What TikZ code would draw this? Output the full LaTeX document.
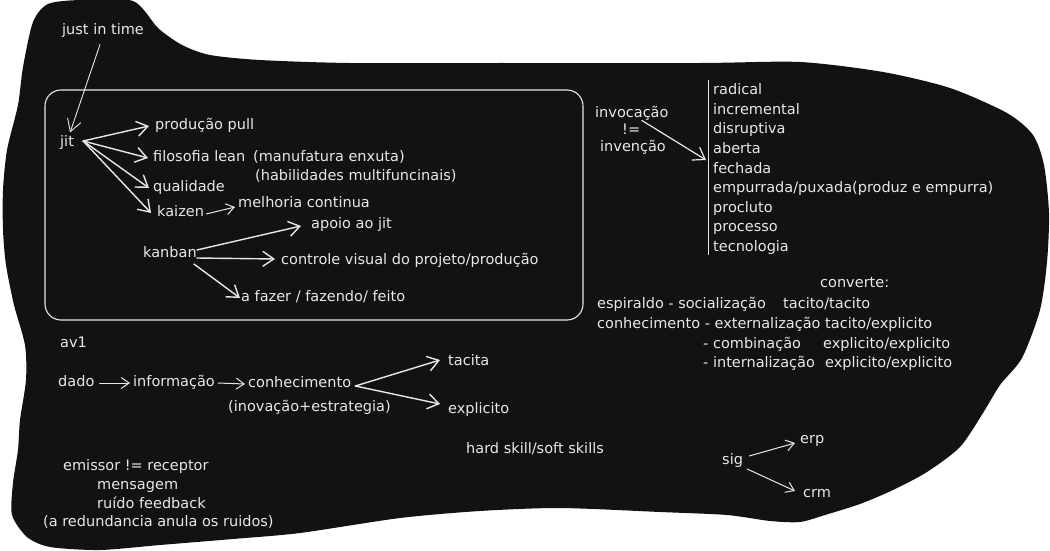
\documentclass[tikz,border=0pt]{standalone}
\usepackage{fontspec}
\setmainfont{DejaVu Sans}
\usetikzlibrary{arrows.meta}
\definecolor{bg}{HTML}{121212}
\definecolor{fg}{HTML}{E8E8E8}
\begin{document}
\begin{tikzpicture}[x=1pt,y=-1pt,
  txt/.style={anchor=west,inner sep=0pt,text=fg,font=\fontsize{14.5}{16}\selectfont,text height=11pt,text depth=3.5pt},
  arr/.style={draw=fg,line width=1.4pt,line cap=round,-{Straight Barb[length=11pt,width=15pt]}},
  sarr/.style={draw=fg,line width=1pt,line cap=round,-{Straight Barb[length=8pt,width=11pt]}},
  tarr/.style={draw=fg,line width=0.9pt,line cap=round,-{Straight Barb[length=12pt,width=14pt]}},
  frame/.style={draw=fg,line width=1.1pt,rounded corners=16pt}]
\useasboundingbox (0,0) rectangle (1050,551);
% blob
\fill[bg] plot[smooth cycle,tension=0.45] coordinates {
 (33,22) (48,4) (80,0) (133,1) (158,28) (182,45) (210,55) (260,60) (350,63) (500,63) (700,63)
 (800,62) (883,72) (950,88) (1007,113) (1033,135) (1044,165) (1049,213) (1047,262)
 (1040,310) (1022,358) (1000,385) (983,413) (960,447) (927,472) (893,490) (860,504)
 (825,515) (800,522) (770,521) (727,515) (660,512) (560,508) (480,511) (400,518)
 (300,533) (233,539) (160,545) (100,550) (50,547) (27,537) (12,515) (13,483) (18,450)
 (20,420) (26,380) (25,345) (14,305) (6,265) (3,230) (3,190) (7,150) (18,105) (23,67)};
% frame
\draw[frame] (45,90) rectangle (583,320);
% upper-left group
\node[txt] (jt) at (62,31) {just in time};
\node[txt] (jit) at (60,143) {jit};
\node[txt] (pp) at (155,126) {produção pull};
\node[txt] (fl) at (153,158) {filosofia lean};
\node[txt] (mf) at (253,158) {(manufatura enxuta)};
\node[txt] (hm) at (255,177) {(habilidades multifuncinais)};
\node[txt] (q) at (153,188) {qualidade};
\node[txt] (kz) at (157,213) {kaizen};
\node[txt] (mc) at (238,204) {melhoria continua};
\node[txt] (ap) at (311,225) {apoio ao jit};
\node[txt] (kb) at (143,254) {kanban};
\node[txt] (cv) at (281,261) {controle visual do projeto/produção};
\node[txt] (af) at (241,298) {a fazer / fazendo/ feito};
\draw[tarr] ([yshift=-6pt,xshift=-3pt]jt.south) -- ([yshift=3pt,xshift=3pt]jit.north);
\draw[arr] ([xshift=9pt,yshift=2pt]jit.east) -- ([xshift=-6pt]pp.west);
\draw[arr] ([xshift=9pt,yshift=2pt]jit.east) -- ([xshift=-5pt]fl.west);
\draw[arr] ([xshift=9pt,yshift=2pt]jit.east) -- ([xshift=-4pt]q.west);
\draw[arr] ([xshift=9pt,yshift=2pt]jit.east) -- ([xshift=-6pt]kz.west);
\draw[sarr] ([xshift=2pt,yshift=-1pt]kz.east) -- ([xshift=-3pt,yshift=-3pt]mc.west);
\draw[arr] ([yshift=4pt]kb.east) -- ([xshift=-10pt,yshift=-1pt]ap.west);
\draw[arr] ([yshift=-4pt]kb.east) -- ([xshift=-6pt,yshift=2pt]cv.west);
\draw[arr] ([xshift=-3pt,yshift=-10pt]kb.east) -- ([xshift=-1pt]af.west);
% innovation list
\node[txt] (inv) at (595,114) {invocação};
\node[txt] (ne) at (622,131) {!=};
\node[txt] (ivn) at (600,148) {invenção};
\draw[fg,line width=1pt] (708,80) coordinate (vt) -- (708,255) coordinate (vb);
\coordinate (vm) at (706,160);
\draw[arr,line width=1.2pt] ([xshift=10pt,yshift=1pt]inv.south) -- (vm);
\foreach \t [count=\i from 0] in {radical,incremental,disruptiva,aberta,fechada,empurrada/puxada(produz e empurra),procluto,processo,tecnologia}
  \node[txt] (li\i) at (713,91+19.6*\i) {\t};
% knowledge conversion
\node[txt] (cvt) at (820,284) {converte:};
\node[txt] (e1) at (597,305) {espiraldo - socialização};
\node[txt] (e1r) at (783,305) {tacito/tacito};
\node[txt] (e2) at (597,325) {conhecimento - externalização};
\node[txt] (e2r) at (825,325) {tacito/explicito};
\node[txt] (e3) at (703,345) {- combinação};
\node[txt] (e3r) at (823,345) {explicito/explicito};
\node[txt] (e4) at (703,364) {- internalização};
\node[txt] (e4r) at (825,364) {explicito/explicito};
% av1 chain
\node[txt] (av) at (60,344) {av1};
\node[txt] (dd) at (58,383) {dado};
\node[txt] (inf) at (133,383) {informação};
\node[txt] (con) at (248,384) {conhecimento};
\node[txt] (inov) at (228,408) {(inovação+estrategia)};
\node[txt] (tac) at (448,362) {tacita};
\node[txt] (exp) at (448,410) {explicito};
\draw[sarr] ([xshift=5pt]dd.east) -- ([xshift=-3pt]inf.west);
\draw[sarr] ([xshift=3pt]inf.east) -- ([xshift=-3pt]con.west);
\draw[arr] ([xshift=4pt,yshift=-2pt]con.east) -- ([xshift=-8pt,yshift=2pt]tac.west);
\draw[arr] ([xshift=4pt,yshift=-2pt]con.east) -- ([xshift=-8pt,yshift=6pt]exp.west);
% misc
\node[txt] (hs) at (466,450) {hard skill/soft skills};
\node[txt] (sig) at (722,461) {sig};
\node[txt] (erp) at (800,440) {erp};
\node[txt] (crm) at (803,494) {crm};
\draw[sarr] ([xshift=6pt,yshift=5pt]sig.east) -- ([xshift=-5pt,yshift=-3pt]erp.west);
\draw[sarr] ([xshift=4pt,yshift=-8pt]sig.east) -- ([xshift=-8pt,yshift=3pt]crm.west);
\node[txt] (em) at (63,467) {emissor != receptor};
\node[txt] (ms) at (97,486) {mensagem};
\node[txt] (rf) at (97,505) {ruído feedback};
\node[txt] (rd) at (43,523) {(a redundancia anula os ruidos)};
\end{tikzpicture}
\end{document}
